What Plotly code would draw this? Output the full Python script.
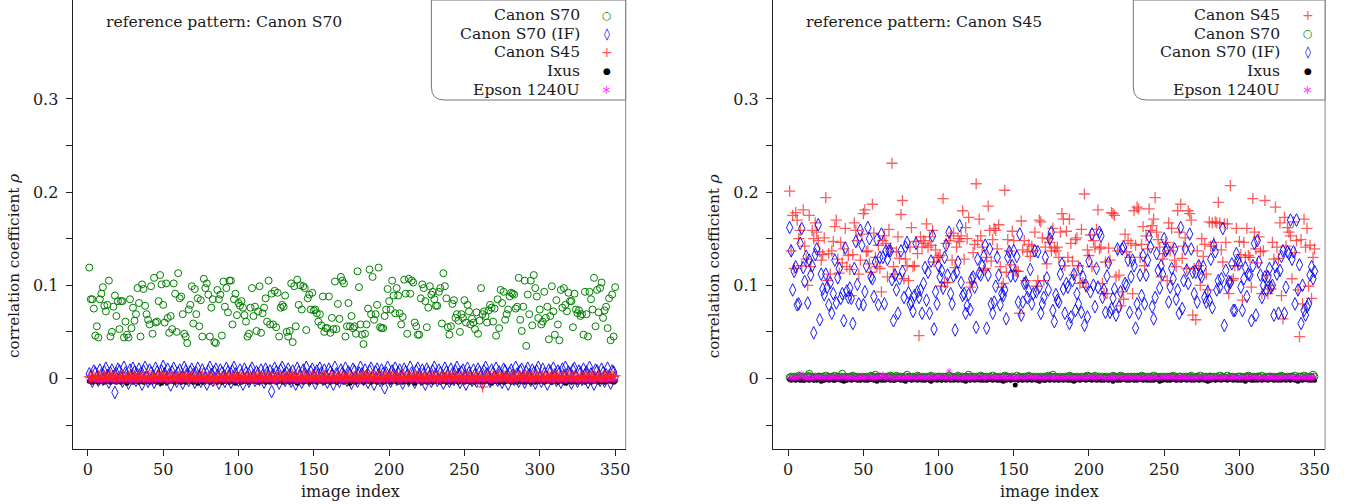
import numpy as np
import plotly.graph_objects as go

# ---------------- data (values in thousandths of rho) ----------------
# Left panel: reference pattern Canon S70
left_s70 = [
    119,85,85,75,46,56,44,85,91,98,
    78,72,79,105,45,50,77,89,67,83,
    53,83,83,44,61,47,44,85,54,76,62,
    69,97,81,45,101,96,78,69,63,58,
    99,48,108,60,61,83,111,101,79,60,
    102,65,49,67,53,102,91,50,113,86,88,
    69,48,45,38,74,79,99,59,96,69,
    86,56,84,45,107,97,102,90,45,76,
    85,39,38,95,85,90,46,104,77,97,71,
    105,105,58,85,91,68,81,78,83,76,
    68,61,45,48,76,97,67,77,51,72,
    99,49,70,76,86,61,105,58,91,58,94,
    55,92,45,76,79,77,89,50,45,51,
    102,39,99,56,106,79,100,74,99,97,52,
    86,90,74,92,73,74,70,61,69,57,
    88,50,54,54,88,49,65,53,104,53,80,
    64,109,105,102,45,56,81,56,67,54,
    56,48,
    115,98,58,47,37,48,58,75,117,69,
    109,63,69,79,119,55,54,54,67,74,
    96,83,74,105,89,70,97,89,70,58,66,
    106,91,48,107,91,105,103,60,56,47,
    47,86,101,97,83,55,76,99,90,93,
    85,78,78,93,97,59,113,99,86,55,
    47,56,80,84,65,69,62,50,69,65,84,
    60,79,72,58,64,60,53,71,48,62,
    97,69,72,67,60,73,79,76,61,75,
    46,85,54,95,81,93,63,69,74,88,92,
    91,90,75,77,108,63,51,77,105,35,
    90,69,105,57,111,97,88,65,74,58,
    61,93,65,77,42,67,99,72,47,84,58,
    41,95,76,97,79,72,92,83,83,55,
    91,74,70,73,67,69,47,93,69,45,
    93,85,74,108,56,95,71,97,103,65,73,
    77,54,86,41,90,45,98,
]
left_s70if = [
    5,2,-3,8,6,1,-2,9,4,-1,
    7,11,3,-4,6,9,2,-15,5,10,
    8,1,-3,12,6,0,-5,9,3,11,
    7,-2,4,10,5,-6,8,12,2,-3,
    9,6,0,-4,11,7,3,-2,8,13,
    5,-1,10,4,-7,7,11,2,-3,6,
    9,1,-5,12,8,3,-2,7,10,4,
    -4,6,11,2,-3,9,5,0,-6,8,
    12,4,-2,7,10,3,-5,9,6,1,
    -3,11,7,2,-4,8,12,5,0,-2,
    9,4,-6,10,6,1,-3,8,11,3,
    -2,7,5,-1,9,3,-4,10,6,2,
    8,-14,4,11,7,0,-5,9,12,3,
    -2,6,10,4,-3,8,1,-6,11,7,
    2,-4,9,5,12,1,-2,7,10,3,
    -5,8,4,11,6,-1,9,2,-4,10,
    7,3,-6,12,5,0,-3,9,6,2,
    11,-2,7,4,-5,10,8,1,-3,6,
    12,5,-1,9,3,-4,8,11,2,-6,
    7,10,4,-2,9,5,-10,6,12,1,
    -3,8,4,11,-1,6,9,2,-5,10,
    7,3,-2,12,6,0,-4,8,11,4,
    -1,9,5,-6,10,7,2,-3,8,12,
    4,-2,9,6,1,-5,11,7,3,-3,
    10,5,-1,8,12,4,-4,7,9,2,
    -6,11,6,1,-2,9,4,-3,10,7,
    3,-5,8,12,5,0,-3,9,6,2,
    11,-2,7,4,-4,10,8,1,-6,6,
    9,3,-1,12,5,-3,8,10,2,-4,
    7,11,4,-2,9,6,-5,8,12,1,
    -3,10,5,2,-6,9,7,0,11,4,
    -2,8,6,-4,10,3,12,-1,7,5,
    -5,9,11,2,-3,8,6,-1,10,4,
    7,-4,12,5,1,-6,9,8,3,-2,
    10,6,-3,4,11,2,-5,8,7,1,
]
left_s45 = [
    2,1,3,2,0,1,3,2,1,2, 3,1,0,2,4,2,1,3,2,0, 1,2,3,1,2,0,3,2,1,4,
    2,0,1,3,2,2,1,0,3,2, 1,3,2,1,0,2,4,1,2,3, 2,1,0,3,2,1,2,3,0,2,
    3,2,1,2,4,1,0,2,3,1, 2,0,3,1,2,3,1,2,0,2, 1,3,2,-2,1,2,3,0,2,1,
    2,1,3,2,0,2,1,4,2,1, 3,0,2,1,2,3,1,2,0,3, 1,2,4,2,1,0,2,3,1,2,
    2,3,1,0,2,1,3,2,2,1, 0,2,3,1,2,4,1,2,0,3, 2,1,2,3,1,0,2,1,3,2,
    1,3,0,2,2,1,3,2,1,0, 3,2,1,2,0,3,2,1,4,2, 1,0,2,3,1,2,1,3,2,0,
    2,3,1,2,4,1,0,2,3,1, 2,1,3,0,2,2,1,3,1,2, 4,2,1,2,3,0,2,1,3,2,
    1,2,3,1,0,2,3,2,1,4, 2,0,2,3,1,2,1,3,2,1, 3,1,2,0,2,3,1,2,4,2,
    1,2,3,1,2,0,2,3,1,2, 2,3,1,2,1,3,0,2,2,1, 3,-9,2,1,3,2,1,0,2,3,
    1,2,4,2,1,3,2,1,0,2, 2,1,3,2,0,2,3,1,2,4, 1,3,2,1,2,0,2,3,1,2,
    2,2,1,3,0,2,1,4,2,1, 3,1,2,0,2,3,1,2,3,2, 1,2,3,2,1,0,2,3,1,2,
    2,4,1,2,3,1,2,0,3,2, 1,2,3,1,2,4,2,3,2,3,
]
left_ixus = [
    -3,-2,-4,-3,-3,-2,-4,-3,-2,-3, -4,-3,-2,-3,-4,-2,-3,-3,-4,-2,
    -3,-4,-3,-2,-3,-5,-3,-2,-3,-4, -2,-3,-3,-4,-2,-3,-4,-3,-3,-2,
    -4,-3,-2,-3,-3,-4,-2,-3,-5,-3, -3,-2,-4,-3,-2,-3,-3,-4,-3,-2,
    -3,-4,-2,-3,-4,-3,-2,-3,-3,-4, -2,-3,-5,-3,-2,-4,-3,-3,-2,-3,
    -4,-3,-3,-2,-3,-4,-3,-2,-4,-3, -3,-2,-3,-4,-3,-3,-2,-5,-3,-3,
    -2,-4,-3,-3,-2,-3,-4,-3,-2,-3, -3,-3,-4,-2,-3,-3,-2,-4,-3,-3,
    -4,-2,-3,-3,-4,-3,-3,-2,-3,-4, -3,-3,-2,-4,-3,-2,-3,-3,-5,-3,
    -2,-3,-4,-3,-3,-2,-4,-3,-3,-2, -3,-4,-3,-2,-3,-3,-4,-2,-3,-3,
    -4,-3,-2,-3,-4,-3,-3,-2,-3,-4, -3,-2,-3,-5,-3,-3,-2,-4,-3,-3,
    -2,-3,-4,-3,-2,-3,-3,-4,-3,-2, -3,-4,-3,-3,-2,-4,-3,-3,-2,-3,
    -4,-3,-2,-3,-3,-4,-2,-3,-4,-3, -3,-3,-4,-2,-3,-3,-5,-3,-2,-3,
    -2,-4,-3,-3,-4,-2,-3,-3,-4,-3, -3,-2,-3,-4,-3,-3,-2,-4,-3,-3,
    -4,-3,-3,-2,-3,-4,-3,-2,-3,-4, -3,-3,-2,-4,-3,-3,-4,-3,-2,-3,
    -2,-4,-3,-3,-2,-3,-3,-5,-3,-3, -3,-3,-4,-2,-3,-4,-3,-3,-2,-3,
    -4,-2,-3,-3,-4,-3,-2,-3,-3,-4, -3,-3,-2,-4,-3,-3,-4,-2,-3,-3,
    -2,-3,-4,-3,-3,-2,-3,-4,-3,-2, -3,-4,-3,-2,-3,-3,-5,-3,-2,-3,
    -4,-3,-3,-2,-4,-3,-3,-2,-3,-4, -3,-2,-3,-4,-3,-3,-2,-3,-4,-3,
    -3,-3,-4,-2,-3,-2,-3,-3,-4,-3,
]
left_epson = [
    -1,-2,-1,0,-2,-1,-2,-3,-1,-2, -2,-1,0,-2,-1,-2,-1,-3,-2,-1,
    -1,-2,-2,-1,0,-2,-1,-2,-3,-1, -2,-1,-2,-1,-2,0,-1,-2,-1,-2,
    -3,-1,-2,-1,0,-2,-2,-1,-2,-1, -1,-2,-1,-3,-2,-1,0,-2,-1,-2,
    -2,-1,-2,-1,-1,-2,-3,-1,0,-2, -1,-2,0,-2,-1,-2,-1,-2,-1,-3,
    -2,-1,-2,-1,-3,-1,-2,0,-2,-1, -1,-2,-1,-2,0,-1,-2,-1,-3,-2,
    -2,0,-1,-2,-1,-2,-1,-2,-1,-2, -1,-3,-2,-1,-2,0,-1,-2,-2,-1,
    -2,-1,-1,-2,-3,-1,-2,-1,0,-2, -1,-2,-2,0,-1,-2,-1,-3,-1,-2,
    -2,-1,-3,-1,-2,-1,0,-2,-1,-2, -1,-2,-1,-2,-1,-3,-2,-1,-2,0,
    -2,-1,0,-2,-1,-2,-1,-2,-3,-1, -1,-2,-1,-1,-2,0,-2,-1,-2,-1,
    -3,-1,-2,-1,-2,-1,-2,0,-1,-2, -1,-2,-1,-3,-1,-2,-1,-2,-2,0,
    -2,-1,-2,-1,0,-2,-3,-1,-2,-1, -1,-2,0,-2,-1,-1,-2,-1,-3,-2,
    -2,-1,-2,-1,-2,-3,-1,0,-2,-1, -1,-3,-1,-2,0,-1,-2,-1,-2,-2,
    -2,-1,-2,0,-1,-2,-1,-2,-1,-3, -1,-2,-1,-2,-3,-1,0,-2,-1,-2,
    -2,-1,0,-1,-2,-1,-2,-3,-1,-2, -1,-2,-2,-1,-1,-2,0,-1,-2,-1,
    -3,-1,-2,-1,-2,0,-1,-2,-1,-2, -1,-2,-1,-3,-1,-2,-1,0,-2,-1,
    -2,-1,-2,-1,0,-2,-1,-2,-3,-1, -1,-2,-1,-2,-1,-1,-3,-2,0,-2,
    -2,0,-2,-1,-2,-1,-2,-1,-1,-3, -1,-2,-1,-2,-3,-1,-2,0,-1,-2,
    -2,-1,-2,-1,-1,-2,0,-2,-1,-2,
]

# Right panel: reference pattern Canon S45
right_s45 = [
    201,137,175,118,178,170,150,159,121,181,142,128,
    100,175,120,159,150,167,157,148,136,127,133,151,
    194,105,134,112,137,147,163,170,128,113,146,124,139,
    161,120,132,117,89,133,167,159,148,112,127,155,
    177,181,136,137,123,114,187,156,130,120,143,118,
    93,148,153,145,109,160,140,231,120,112,136,152,129,
    176,191,107,128,121,105,141,162,120,121,147,134,
    46,152,141,148,145,166,141,152,143,159,125,138,130,
    130,132,99,193,103,145,103,148,153,127,156,119,141,
    150,147,153,180,128,162,150,173,98,103,135,144,
    209,148,171,153,141,116,118,130,185,159,126,149,
    161,159,139,165,120,98,102,202,114,149,137,122,158,
    148,116,115,115,70,169,138,148,105,136,144,131,
    142,137,157,99,105,170,168,151,105,141,123,150,146,
    137,161,140,
    137,141,130,157,177,171,121,158,130,171,145,126,
    111,149,151,121,102,160,103,198,98,138,132,154,120,
    148,141,160,181,139,141,102,91,125,91,140,127,
    178,177,175,109,137,111,78,93,85,155,136,148,
    130,145,91,180,143,184,182,130,144,163,121,153,139,
    182,159,164,171,194,157,149,141,109,128,134,146,
    105,167,137,161,141,127,120,180,157,187,129,142,151,
    118,180,177,170,68,118,63,137,121,100,150,131,144,
    112,95,168,142,167,146,168,167,189,167,138,125,
    166,146,166,91,207,105,107,121,161,121,147,133,
    84,146,130,161,132,130,98,193,157,139,124,152,136,
    91,137,191,111,91,100,96,146,128,184,141,129,
    167,89,64,173,142,162,157,153,107,168,135,148,
    95,45,149,80,171,141,161,99,143,86,130,139,
]
right_s70 = [
    1,2,1,2,0,1,3,2,1,2, 1,2,3,5,2,1,0,2,1,2, 2,1,2,0,3,1,2,1,2,1,
    3,1,2,1,2,5,1,2,0,1, 2,1,3,2,1,2,1,0,2,1, 1,2,0,2,3,1,2,4,1,2,
    2,1,2,1,0,2,1,3,2,1, 1,3,2,1,2,1,0,2,4,1, 2,1,2,0,1,3,2,1,2,1,
    1,2,1,2,3,1,0,2,1,2, 2,0,2,1,2,1,3,1,2,1, 1,2,3,1,0,2,1,2,1,4,
    2,1,2,1,2,0,2,3,1,2, 1,2,0,2,1,3,1,2,1,0, 2,1,2,3,1,2,1,0,2,1,
    1,3,1,2,0,1,2,1,2,3, 2,1,2,1,2,1,0,2,1,2, 1,2,3,1,2,4,1,2,0,1,
    2,0,1,2,1,2,3,1,2,1, 1,2,1,0,2,1,2,1,3,2, 2,1,2,3,1,0,2,1,2,1,
    1,2,0,1,2,3,1,2,1,2, 3,1,2,1,0,2,1,2,1,2, 1,2,1,2,3,1,2,0,2,1,
    2,1,3,1,2,1,0,2,1,2, 1,2,1,2,1,3,2,1,0,2, 2,0,2,1,2,1,2,3,1,1,
    1,2,1,3,0,2,1,2,1,2, 2,1,2,1,2,0,3,1,2,1, 1,3,1,2,1,2,1,0,2,2,
    2,1,0,2,1,3,2,1,2,1, 1,2,2,1,3,1,0,2,1,2, 2,1,2,0,1,2,1,3,2,1,
    1,2,1,2,2,1,3,1,0,2, 2,1,3,1,2,1,2,1,4,2,
]
right_s70if = [
    162,137,95,115,120,79,80,145,161,119,104,
    131,81,127,111,121,49,133,139,165,63,112,96,
    90,112,98,79,103,70,91,127,81,108,118,86,
    91,62,140,94,87,97,86,59,118,147,101,
    80,159,143,79,93,121,162,150,109,107,88,125,
    149,79,130,155,130,80,137,128,137,137,106,
    62,111,95,70,107,137,115,87,141,146,92,
    80,82,72,89,145,93,87,95,70,102,119,84,
    114,70,126,153,53,93,80,121,109,116,97,130,
    143,111,157,91,80,110,52,114,125,164,103,
    89,91,70,78,90,74,107,109,98,55,128,113,
    111,121,131,143,54,111,139,80,70,82,99,
    130,111,79,91,89,95,64,130,136,110,121,
    137,110,131,82,155,68,82,102,103,87,94,117,
    80,91,137,93,136,98,70,80,87,130,108,
    95,150,157,73,61,90,
    84,82,112,123,96,70,102,98,59,66,105,
    112,73,91,80,118,71,109,57,100,66,126,93,
    155,100,77,118,98,157,153,87,95,71,110,124,
    71,75,86,96,68,139,77,93,139,141,102,
    100,127,71,109,127,121,54,80,70,111,89,132,
    80,111,127,152,141,77,64,87,134,116,97,
    121,112,150,137,139,82,98,118,107,139,85,
    95,70,162,75,105,139,116,102,155,139,114,91,
    114,82,121,112,109,120,87,82,93,84,128,76,
    143,136,95,105,98,107,161,57,116,98,104,
    103,123,73,73,134,127,123,98,73,107,119,88,
    112,111,62,121,145,68,148,125,111,87,100,109,
    95,109,118,98,100,68,120,112,70,116,131,
    137,70,98,136,134,170,128,136,80,170,95,122,
    59,100,73,68,77,80,111,120,107,115,
]
right_ixus = [
    -1,-2,-1,0,-2,-1,-1,-2,-1,-2, -2,-1,-1,-2,0,-1,-2,-1,-2,-1,
    -1,-3,-1,-2,-1,0,-2,-1,-1,-2, -2,-1,0,-1,-2,-1,-3,-1,-2,-1,
    -1,-2,-1,-1,0,-2,-1,-2,-1,-1, -2,-1,-2,0,-1,-1,-2,-1,-3,-1,
    -1,-2,-1,-2,-1,0,-1,-2,-1,-2, -2,0,-1,-1,-2,-1,-2,-3,-1,-1,
    -1,-2,-1,0,-1,-2,-1,-1,-2,-1, -2,-1,-1,-2,-3,-1,0,-1,-2,-1,
    -1,-2,0,-1,-2,-1,-1,-2,-1,-2, -1,-1,-2,-1,0,-2,-1,-3,-1,-1,
    -2,-1,-1,-2,-1,-1,0,-2,-1,-2, -1,-2,-1,0,-1,-2,-1,-1,-2,-1,
    -2,-1,-3,-1,-2,0,-1,-2,-1,-1, -7,-1,-2,-1,-1,-2,0,-1,-2,-1,
    -1,-2,-1,-1,-2,-1,-3,0,-1,-2, -2,-1,0,-2,-1,-1,-2,-1,-1,-2,
    -1,-1,-2,-1,0,-2,-1,-2,-1,-3, -2,-1,-1,-2,-1,-1,0,-2,-1,-1,
    -1,-2,-1,0,-2,-1,-1,-2,-1,-2, -1,-1,-2,-1,-1,-3,-1,0,-2,-1,
    -2,-1,0,-1,-2,-1,-2,-1,-1,-2, -1,-2,-1,-1,0,-2,-1,-1,-2,-1,
    -2,-1,-2,-1,-1,0,-3,-1,-2,-1, -1,-2,-1,-2,-1,-1,0,-2,-1,-1,
    -2,0,-1,-1,-2,-1,-1,-2,-1,-2, -1,-1,-2,-1,0,-1,-2,-1,-3,-1,
    -2,-1,-1,-2,-1,0,-1,-2,-1,-1, -1,-2,0,-1,-1,-2,-1,-1,-2,-1,
    -2,-1,-1,-3,-1,-1,0,-2,-1,-2, -1,-2,-1,-1,-2,0,-1,-1,-2,-1,
    -1,-1,-2,0,-1,-2,-1,-2,-1,-1, -2,-1,-1,-2,-1,-1,-2,0,-3,-1,
    -1,-2,-1,-1,0,-2,-1,-2,-1,-2,
]
right_epson = [
    0,1,0,1,2,0,1,1,5,0, 1,0,1,2,0,1,0,1,2,1, 0,1,1,0,2,1,0,1,0,1,
    2,0,1,0,1,1,2,0,1,0, 1,2,0,1,0,1,0,2,1,1, 0,1,2,0,1,0,1,1,0,2,
    1,0,4,1,0,1,2,0,1,0, 0,1,0,2,1,0,1,1,2,0, 1,2,0,1,0,1,0,2,1,1,
    0,1,1,0,2,0,1,0,1,2, 1,0,2,1,0,1,8,0,1,0, 2,1,0,1,1,0,2,1,0,1,
    0,1,2,0,1,1,0,1,2,0, 1,0,1,2,0,1,1,0,1,2, 0,2,1,0,1,0,1,2,0,1,
    1,0,1,1,2,0,1,0,1,1, 2,1,0,1,0,2,1,1,0,1, 0,1,1,2,0,1,0,1,2,0,
    1,0,2,0,1,1,2,0,1,1, 0,1,0,1,2,0,1,1,0,2, 1,2,1,0,1,0,2,1,1,0,
    0,1,0,2,1,1,0,1,2,1, 1,0,1,1,0,2,1,0,1,0, 2,1,0,1,1,0,1,2,0,1,
    0,1,2,0,1,1,0,1,1,2, 1,0,1,2,0,1,1,0,2,0, 0,2,1,0,1,0,1,1,0,1,
    1,0,1,1,2,0,1,0,1,2, 0,1,0,2,1,1,0,1,0,1, 2,1,1,0,1,0,2,1,1,0,
    0,1,2,1,0,1,0,1,2,1, 1,0,1,0,1,2,1,0,1,1, 0,2,0,1,1,0,1,2,0,1,
    1,0,1,2,0,1,1,0,1,0, 2,1,0,1,1,0,2,1,0,1,
]

x_ticks = [0, 50, 100, 150, 200, 250, 300, 350]
y_ticks = [0, 0.1, 0.2, 0.3]
y_ticktext = ["0", "0.1", "0.2", "0.3"]
y_minor = [-0.05, 0.05, 0.15, 0.25]

# ---------------- styling ----------------
W, H = 1350, 504
def px(X):
    return X / W
def py(Y):
    return 1 - Y / H

FONT = "DejaVu Serif"
FS = 16
FS_LEG = 15.6
TXT = "#1a1a1a"
GREEN = "#008000"
BLUE = "#0000ff"
RED = "rgba(255,30,30,0.72)"
BLACK = "#000000"
MAG = "rgba(255,0,255,0.6)"

STYLE = {
    "Canon S70": dict(symbol="circle-open", size=7, color=GREEN, line=dict(width=1, color=GREEN)),
    "Canon S70 (IF)": dict(symbol="diamond-tall-open", size=9, color=BLUE, line=dict(width=0.9, color=BLUE)),
    "Canon S45": dict(symbol="cross-thin-open", size=8, color=RED, line=dict(width=1.3, color=RED)),
    "Ixus": dict(symbol="circle", size=5, color=BLACK),
    "Epson 1240U": dict(symbol="asterisk-open", size=5.5, color=MAG, line=dict(width=1, color=MAG)),
}
KEY = {
    "Canon S70": ("○", GREEN, 11),
    "Canon S70 (IF)": ("◊", BLUE, 12),
    "Canon S45": ("+", "rgb(255,90,90)", 14),
    "Ixus": ("●", BLACK, 9),
    "Epson 1240U": ("∗", "rgb(255,80,255)", 13),
}

fig = go.Figure()

def add(xa, ya, vals, name):
    v = np.asarray(vals, dtype=float) / 1000.0
    fig.add_trace(go.Scatter(
        x=np.arange(1, len(v) + 1), y=v, mode="markers", name=name,
        marker=STYLE[name], xaxis=xa, yaxis=ya, showlegend=False,
        hoverinfo="skip"))

# legend order of each panel
left_series = [("Canon S70", left_s70), ("Canon S70 (IF)", left_s70if),
               ("Canon S45", left_s45), ("Ixus", left_ixus),
               ("Epson 1240U", left_epson)]
right_series = [("Canon S45", right_s45), ("Canon S70", right_s70),
                ("Canon S70 (IF)", right_s70if), ("Ixus", right_ixus),
                ("Epson 1240U", right_epson)]

# drawing order (left: the S45 crosses lie on top of the near-zero band)
left_draw = [0, 1, 3, 4, 2]
for i in left_draw:
    name, vals = left_series[i]
    add("x", "y", vals, name)
for name, vals in right_series:
    add("x2", "y2", vals, name)

Y0, Y1 = 0, 449   # plot area top/bottom in px
yrange = [-0.0757, 0.4062]
xrange_ = [-10, 357]

def xax(d0, d1, anchor):
    return dict(domain=[px(d0), px(d1)], range=xrange_, anchor=anchor,
                tickvals=x_ticks, ticks="outside", ticklen=6, tickwidth=1,
                tickcolor="#222", showline=True, linecolor="#222", linewidth=1.3,
                showgrid=False, zeroline=False,
                tickfont=dict(family=FONT, size=FS, color=TXT))

def yax(anchor):
    return dict(domain=[py(Y1), py(Y0)], range=yrange, anchor=anchor,
                tickvals=y_ticks, ticktext=y_ticktext, ticks="outside",
                ticklen=6, tickwidth=1, tickcolor="#222",
                ticklabelstandoff=4,
                minor=dict(tickvals=y_minor, ticks="outside", ticklen=6,
                           tickwidth=1, tickcolor="#222"),
                showline=True, linecolor="#222", linewidth=1.3,
                showgrid=False, zeroline=False,
                tickfont=dict(family=FONT, size=FS, color=TXT))

panels = [
    dict(L=73, R=628, title_x=14, xt=352, ref="Canon S70", refx=104,
         box_l=433, text_r=583, key_x=609, series=left_series),
    dict(L=776, R=1330, title_x=717, xt=1053, ref="Canon S45", refx=807,
         box_l=1137.5, text_r=1286, key_x=1312.5, series=right_series),
]

shapes = []
annotations = []
rows = [15, 33.6, 52.3, 71, 89.6]
r = 13
for p in panels:
    # right border of the plot box
    shapes.append(dict(type="line", xref="paper", yref="paper",
                       x0=px(p["R"]), x1=px(p["R"]), y0=py(Y0), y1=py(Y1),
                       line=dict(color="#888", width=1)))
    # legend box with rounded lower-left corner
    bl, br, bt, bb = p["box_l"], p["R"], 0, 100
    path = (f"M {px(bl)},{py(bt)} L {px(bl)},{py(bb - r)} "
            f"Q {px(bl)},{py(bb)} {px(bl + r)},{py(bb)} "
            f"L {px(br)},{py(bb)} L {px(br)},{py(bt)} Z")
    shapes.append(dict(type="path", xref="paper", yref="paper", path=path,
                       fillcolor="white", line=dict(color="#777", width=1),
                       layer="above"))
    for (name, _), yy in zip(p["series"], rows):
        annotations.append(dict(text=name, x=px(p["text_r"]), y=py(yy),
                                xref="paper", yref="paper", xanchor="right",
                                yanchor="middle", showarrow=False, borderpad=0,
                                font=dict(family=FONT, size=FS_LEG, color=TXT)))
        g, c, s = KEY[name]
        annotations.append(dict(text=g, x=px(p["key_x"]), y=py(yy),
                                xref="paper", yref="paper", xanchor="center",
                                yanchor="middle", showarrow=False, borderpad=0,
                                font=dict(family="DejaVu Sans", size=s, color=c)))
    annotations.append(dict(text="reference pattern: " + p["ref"],
                            x=px(p["refx"]), y=py(22), xref="paper", yref="paper",
                            xanchor="left", yanchor="middle", showarrow=False,
                            font=dict(family=FONT, size=FS_LEG, color=TXT)))
    annotations.append(dict(text="correlation coefficient <i>ρ</i>",
                            x=px(p["title_x"]), y=py(266), xref="paper",
                            yref="paper", xanchor="center", yanchor="middle",
                            textangle=-90, showarrow=False,
                            font=dict(family=FONT, size=15.2, color=TXT)))
    annotations.append(dict(text="image index", x=px(p["xt"]), y=py(491),
                            xref="paper", yref="paper", xanchor="center",
                            yanchor="middle", showarrow=False,
                            font=dict(family=FONT, size=FS, color=TXT)))

fig.update_layout(
    width=W, height=H,
    margin=dict(l=0, r=0, t=0, b=0),
    paper_bgcolor="white", plot_bgcolor="white",
    showlegend=False,
    xaxis=xax(73, 628, "y"), yaxis=yax("x"),
    xaxis2=xax(776, 1330, "y2"), yaxis2=yax("x2"),
    shapes=shapes, annotations=annotations,
)

fig.write_html(
    "out.html",
    config={"displayModeBar": False},
    post_script="document.body.style.margin='0px';"
                "document.body.style.overflow='hidden';",
)
